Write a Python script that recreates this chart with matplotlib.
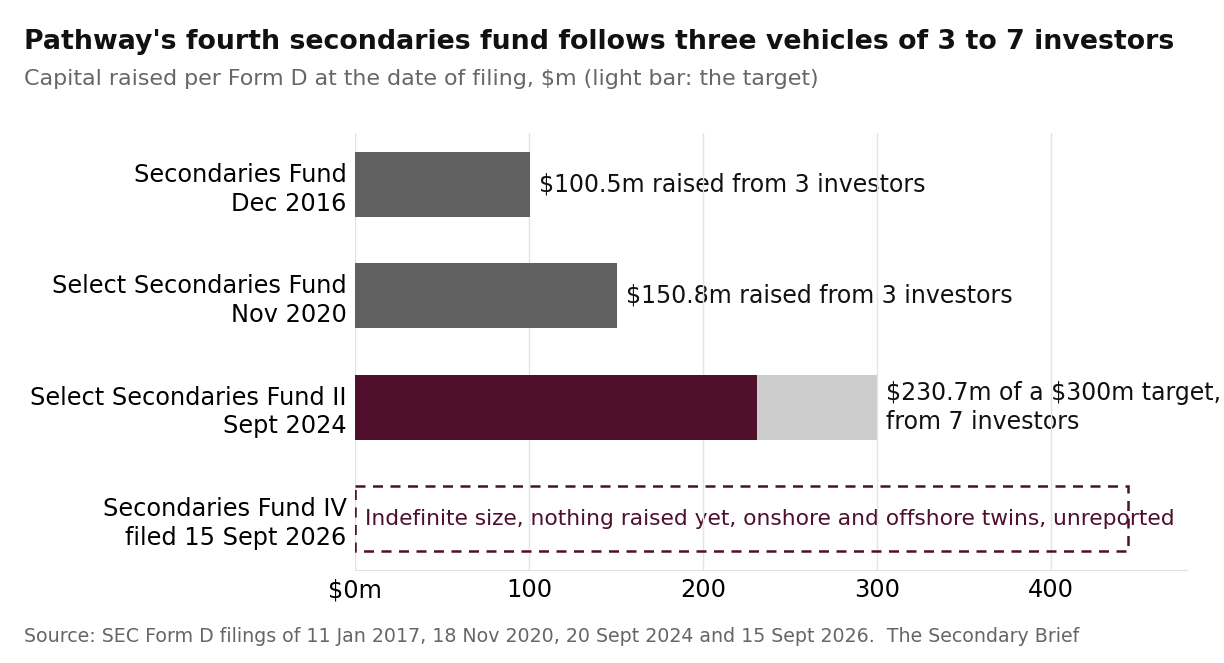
import matplotlib.pyplot as plt
from matplotlib.patches import Rectangle

plt.rcParams['font.family'] = ['DejaVu Sans']

funds = ["Secondaries Fund\nDec 2016",
         "Select Secondaries Fund\nNov 2020",
         "Select Secondaries Fund II\nSept 2024",
         "Secondaries Fund IV\nfiled 15 Sept 2026"]
raised = [100.5, 150.8, 230.7]
target = [None, None, 300]
labels = ["$100.5m raised from 3 investors",
          "$150.8m raised from 3 investors",
          "$230.7m of a $300m target,\nfrom 7 investors"]
placeholder_width = 444
placeholder_text = "Indefinite size, nothing raised yet, onshore and offshore twins, unreported"
xticks = [0, 100, 200, 300, 400]
xtick_labels = ["$0m", "100", "200", "300", "400"]

grey = '#606060'
maroon = '#4f0f2d'
light = '#cccccc'

fig = plt.figure(figsize=(12.24, 6.63), dpi=100)
ax = fig.add_axes([355/1224, 1 - 570/663, (1187-355)/1224, (570-133)/663])

h = 0.58
ys = list(range(len(funds)))
for i, v in enumerate(raised):
    t = target[i]
    if t is not None:
        ax.barh(i, t, height=h, color=light, zorder=2)
        ax.barh(i, v, height=h, color=maroon, zorder=3)
        end = t
    else:
        ax.barh(i, v, height=h, color=grey, zorder=3)
        end = v
    ax.text(end + 5, i, labels[i], va='center', ha='left', fontsize=17.0,
            color='#111111', zorder=1, parse_math=False, linespacing=1.25)

# placeholder for the fourth fund
ax.add_patch(Rectangle((0, 3 - h/2), placeholder_width, h, fill=False,
                       edgecolor=maroon, linestyle=(0, (4, 3)), linewidth=1.8, zorder=4))
ax.text(6, 3, placeholder_text, va='center', ha='left', fontsize=15.7, color=maroon, zorder=1)

ax.set_xlim(0, 478)
ax.set_ylim(3.46, -0.46)
ax.set_yticks(ys)
ax.set_yticklabels(funds, fontsize=17.3, linespacing=1.25)
ax.set_xticks(xticks)
ax.set_xticklabels(xtick_labels, fontsize=17.3, parse_math=False)
ax.tick_params(length=0, pad=6)
ax.tick_params(axis='x', pad=6)
ax.grid(axis='x', color='#e3e3e3', linewidth=1, zorder=5)
ax.set_axisbelow(False)
for s in ['top', 'right', 'left']:
    ax.spines[s].set_visible(False)
ax.spines['bottom'].set_color('#e0e0e0')

fig.text(24/1224, 1 - 42/663, "Pathway's fourth secondaries fund follows three vehicles of 3 to 7 investors",
         fontsize=19.3, fontweight='bold', va='center', ha='left', color='#111111')
fig.text(24/1224, 1 - 79/663, "Capital raised per Form D at the date of filing, $m (light bar: the target)",
         fontsize=15.9, va='center', ha='left', color='#666666', parse_math=False)
fig.text(24/1224, 1 - 636/663,
         "Source: SEC Form D filings of 11 Jan 2017, 18 Nov 2020, 20 Sept 2024 and 15 Sept 2026.  The Secondary Brief",
         fontsize=13.7, va='center', ha='left', color='#666666')

fig.savefig('out.png', dpi=100)
